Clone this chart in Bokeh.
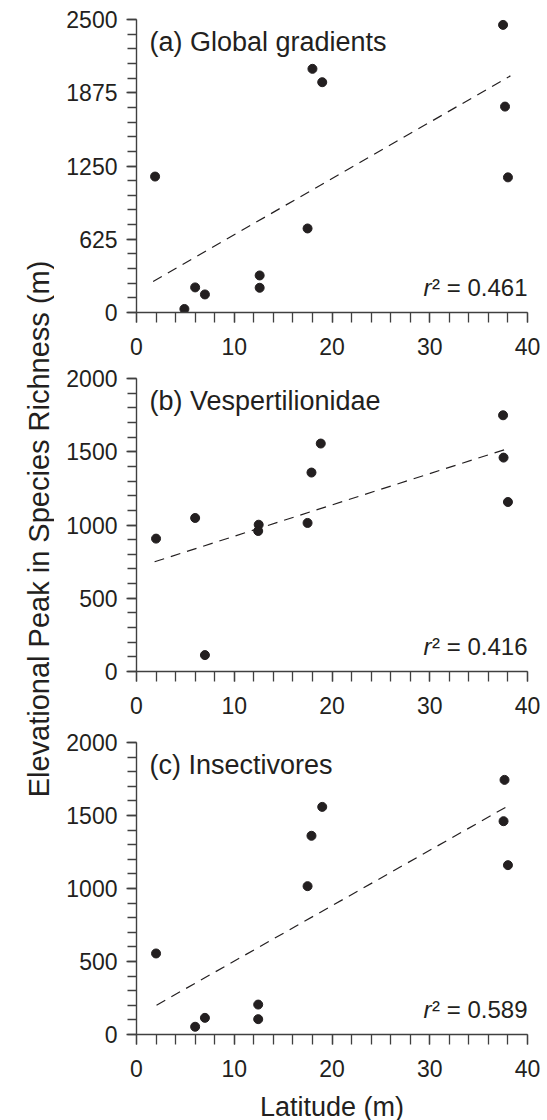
import math
from bokeh.plotting import figure
from bokeh.layouts import column, row
from bokeh.models import Range1d, SingleIntervalTicker, Label
from bokeh.core.properties import value
from bokeh.embed import file_html
from bokeh.resources import INLINE

# ---- data ----
lat_a = [1.9, 4.9, 6.0, 7.0, 12.6, 12.6, 17.5, 18.0, 19.0, 37.5, 37.7, 38.0]
elev_a = [1160, 30, 214, 154, 316, 211, 717, 2079, 1965, 2454, 1757, 1153]
fit_a_x = [1.7, 38.25]
fit_a_y = [265, 2019]

lat_b = [2.0, 6.0, 7.0, 12.5, 12.45, 17.5, 17.9, 18.85, 37.5, 37.55, 38.0]
elev_b = [907, 1048, 112, 1002, 959, 1014, 1358, 1556, 1749, 1460, 1157]
fit_b_x = [1.85, 38.2]
fit_b_y = [749, 1526]

lat_c = [2.0, 6.0, 7.0, 12.45, 12.45, 17.5, 17.9, 19.0, 37.65, 37.55, 38.0]
elev_c = [555, 53, 114, 205, 105, 1016, 1361, 1559, 1744, 1461, 1160]
fit_c_x = [2.05, 38.15]
fit_c_y = [201, 1571]

panel_titles = ["(a) Global gradients", "(b) Vespertilionidae", "(c) Insectivores"]
r2_values = ["0.461", "0.416", "0.589"]
y_max = [2500, 2000, 2000]
y_step = [625, 500, 500]
y_title = "Elevational Peak in Species Richness (m)"
x_title = "Latitude (m)"

FONT = "Liberation Sans"
TXT = "#231f20"
AX = "#404040"


def make_panel(lat, elev, fx, fy, ymax, ystep, title, r2, top, fh, bottom,
               xlabel=None):
    p = figure(frame_width=391, frame_height=fh,
               min_border_left=82, min_border_right=16,
               min_border_top=top, min_border_bottom=bottom,
               x_range=Range1d(0, 40), y_range=Range1d(0, ymax),
               output_backend="svg", toolbar_location=None)
    p.outline_line_color = None
    p.xgrid.visible = False
    p.ygrid.visible = False

    p.xaxis.ticker = SingleIntervalTicker(interval=10, num_minor_ticks=5)
    p.yaxis.ticker = SingleIntervalTicker(interval=ystep, num_minor_ticks=5)
    for ax in (p.xaxis[0], p.yaxis[0]):
        ax.axis_line_color = AX
        ax.axis_line_width = 1.4
        ax.major_tick_line_color = AX
        ax.minor_tick_line_color = AX
        ax.major_tick_line_width = 1.3
        ax.minor_tick_line_width = 1.3
        ax.major_tick_in = 0
        ax.minor_tick_in = 0
        ax.major_tick_out = 10
        ax.major_label_text_font = FONT
        ax.major_label_text_font_size = "23px"
        ax.major_label_text_color = TXT
        ax.axis_label_text_font = FONT
        ax.axis_label_text_font_size = "27px"
        ax.axis_label_text_font_style = "normal"
        ax.axis_label_text_color = TXT
    p.xaxis.minor_tick_out = 10
    p.yaxis.minor_tick_out = 9
    p.xaxis.major_label_standoff = 15
    p.yaxis.major_label_standoff = 9
    if xlabel:
        p.xaxis.axis_label = xlabel
        p.xaxis.axis_label_standoff = 12

    p.line(fx, fy, line_color=TXT, line_width=1.2, line_dash="10 7")
    p.scatter(lat, elev, size=9, fill_color=TXT, line_color=TXT)

    p.add_layout(Label(x=0, y=ymax, x_offset=13, y_offset=-22, text=title,
                       text_font=FONT, text_font_size="27px", text_color=TXT,
                       text_baseline="alphabetic", text_align="left"))
    p.add_layout(Label(x=40, y=0, x_offset=0, y_offset=25, text="\u00b2 = " + r2,
                       text_font=FONT, text_font_size="24px", text_color=TXT,
                       text_baseline="alphabetic", text_align="right"))
    p.add_layout(Label(x=40, y=0, x_offset=-96, y_offset=25, text="r",
                       text_font=FONT, text_font_size="24px", text_color=TXT,
                       text_font_style="italic",
                       text_baseline="alphabetic", text_align="right"))
    return p


pa = make_panel(lat_a, elev_a, fit_a_x, fit_a_y, y_max[0], y_step[0],
                panel_titles[0], r2_values[0], 19, 293, 50)
pb = make_panel(lat_b, elev_b, fit_b_x, fit_b_y, y_max[1], y_step[1],
                panel_titles[1], r2_values[1], 16, 293, 50)
pc = make_panel(lat_c, elev_c, fit_c_x, fit_c_y, y_max[2], y_step[2],
                panel_titles[2], r2_values[2], 21, 292, 86,
                xlabel=x_title)

# shared y-axis title in its own narrow strip (pixel coordinates)
lab = figure(width=54, height=1120, min_border=0,
             x_range=Range1d(0, 54), y_range=Range1d(0, 1120),
             x_axis_type=None, y_axis_type=None,
             output_backend="svg", toolbar_location=None)
lab.outline_line_color = None
lab.xgrid.visible = False
lab.ygrid.visible = False
lab.text(x=[38], y=[1120 - 528.5], text=[y_title], angle=math.pi / 2,
         text_font=value(FONT), text_font_size="29px", text_color=TXT,
         text_align="center", text_baseline="alphabetic")

layout = row(lab, column(pa, pb, pc, spacing=0), spacing=0)
open("out.html", "w").write(file_html(layout, INLINE))
